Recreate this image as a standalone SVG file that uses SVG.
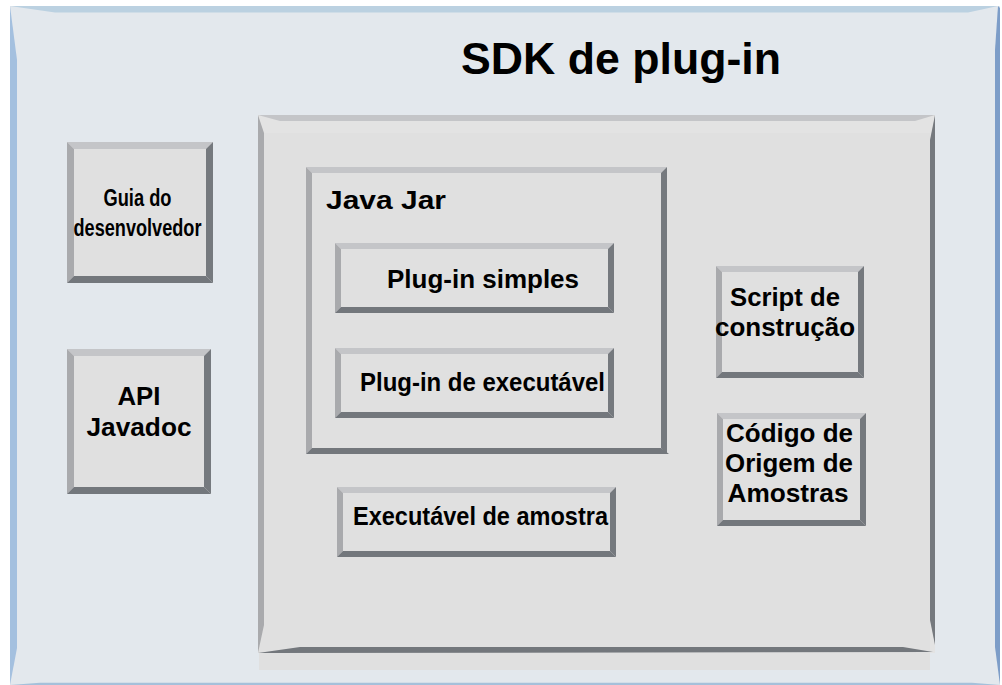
<svg xmlns="http://www.w3.org/2000/svg" width="1002" height="685" viewBox="0 0 1002 685">
<style>
.bg{fill:#ffffff}
.fface{fill:#E3E8ED}
.ft{fill:#BBD1E1}
.fl{fill:#A4C0DF}
.fr{fill:#7D9DC8}
.fb{fill:#A5C0DA}
.face{fill:#E0E0E0}
.face2{fill:#E3E3E3}
.bt{fill:#C4C5C8}
.bl{fill:#A9AAAD}
.br{fill:#75797E}
.bb{fill:#73777C}
text{font-family:"Liberation Sans",Arial,Helvetica,sans-serif;font-weight:bold;fill:#000000}
.t26{font-size:26.5px}
.t21{font-size:23px}
.title{font-size:45px}
</style>
<rect class="bg" x="0" y="0" width="1002" height="685"/>
<g id="frame">
<rect class="fface" x="10" y="6" width="990" height="679"/>
<polygon class="ft" points="10,6 998,6 968,12.5 55,12.5"/>
<polygon class="fl" points="10,6 17,60 17,648 10,685"/>
<polygon class="fr" points="998,6 1000,8 1000,685 995,647 995,50"/>
<polygon class="fb" points="10,685 40,682.7 972,682.7 1000,685"/>
<text class="title" x="461" y="74" textLength="320" lengthAdjust="spacingAndGlyphs">SDK de plug-in</text>
</g>
<g id="guia">
<rect class="face" x="67" y="142" width="146" height="141"/>
<polygon class="bt" points="67,142 213,142 206,149 74,149"/>
<polygon class="bl" points="67,142 74,149 74,276 67,283"/>
<polygon class="br" points="213,142 213,283 206,276 206,149"/>
<polygon class="bb" points="67,283 213,283 206,276 74,276"/>
<text class="t21" x="137.5" y="206" text-anchor="middle" textLength="68" lengthAdjust="spacingAndGlyphs">Guia do</text>
<text class="t21" x="137.5" y="236" text-anchor="middle" textLength="128" lengthAdjust="spacingAndGlyphs">desenvolvedor</text>
</g>
<g id="api">
<rect class="face" x="67" y="349" width="144" height="145"/>
<polygon class="bt" points="67,349 211,349 204,356 74,356"/>
<polygon class="bl" points="67,349 74,356 74,487 67,494"/>
<polygon class="br" points="211,349 211,494 204,487 204,356"/>
<polygon class="bb" points="67,494 211,494 204,487 74,487"/>
<text class="t26" x="139" y="405" text-anchor="middle" textLength="43" lengthAdjust="spacingAndGlyphs">API</text>
<text class="t26" x="139" y="436" text-anchor="middle" textLength="105" lengthAdjust="spacingAndGlyphs">Javadoc</text>
</g>
<g id="sdk-box">
<rect class="face2" x="258" y="115" width="677" height="538"/>
<rect class="face" x="259" y="133" width="671" height="537"/>
<polygon class="bt" points="258,115 935,115 915,121 280,121"/>
<polygon class="bl" points="258,115 264,133 264,625 258,653"/>
<polygon class="br" points="935,115 935,645 930,620 930,140"/>
<polygon class="bb" points="258,653 933,652 903,647 300,647"/>
</g>
<g id="java-jar">
<polygon class="bt" points="306,167 667,167 661,173 312,173"/>
<polygon class="bl" points="306,167 312,173 312,448 306,454"/>
<polygon class="br" points="667,167 667,454 661,448 661,173"/>
<polygon class="bb" points="306,454 669,454 661,448 312,448"/>
<text class="t26" x="326" y="208.5" textLength="120" lengthAdjust="spacingAndGlyphs">Java Jar</text>
</g>
<g id="plugin-simples">
<rect class="face" x="335" y="243" width="279" height="70"/>
<polygon class="bt" points="335,243 614,243 608,249 341,249"/>
<polygon class="bl" points="335,243 341,249 341,307 335,313"/>
<polygon class="br" points="614,243 614,313 608,307 608,249"/>
<polygon class="bb" points="335,313 614,313 608,307 341,307"/>
<text class="t26" x="387" y="288" textLength="192" lengthAdjust="spacingAndGlyphs">Plug-in simples</text>
</g>
<g id="plugin-executavel">
<rect class="face" x="335" y="348" width="279" height="70"/>
<polygon class="bt" points="335,348 614,348 608,354 341,354"/>
<polygon class="bl" points="335,348 341,354 341,412 335,418"/>
<polygon class="br" points="614,348 614,418 608,412 608,354"/>
<polygon class="bb" points="335,418 614,418 608,412 341,412"/>
<text class="t26" x="360" y="391" textLength="245" lengthAdjust="spacingAndGlyphs">Plug-in de executável</text>
</g>
<g id="executavel-amostra">
<rect class="face" x="337" y="487" width="279" height="70"/>
<polygon class="bt" points="337,487 616,487 610,493 343,493"/>
<polygon class="bl" points="337,487 343,493 343,551 337,557"/>
<polygon class="br" points="616,487 616,557 610,551 610,493"/>
<polygon class="bb" points="337,557 616,557 610,551 343,551"/>
<text class="t26" x="353" y="525" textLength="255" lengthAdjust="spacingAndGlyphs">Executável de amostra</text>
</g>
<g id="script-construcao">
<rect class="face" x="716" y="266" width="148" height="112"/>
<polygon class="bt" points="716,266 864,266 858,272 722,272"/>
<polygon class="bl" points="716,266 722,272 722,372 716,378"/>
<polygon class="br" points="864,266 864,378 858,372 858,272"/>
<polygon class="bb" points="716,378 864,378 858,372 722,372"/>
<text class="t26" x="785" y="306" text-anchor="middle" textLength="110" lengthAdjust="spacingAndGlyphs">Script de</text>
<text class="t26" x="785" y="336" text-anchor="middle" textLength="140" lengthAdjust="spacingAndGlyphs">construção</text>
</g>
<g id="codigo-origem">
<rect class="face" x="717" y="413" width="149" height="113"/>
<polygon class="bt" points="717,413 866,413 860,419 723,419"/>
<polygon class="bl" points="717,413 723,419 723,520 717,526"/>
<polygon class="br" points="866,413 866,526 860,520 860,419"/>
<polygon class="bb" points="717,526 866,526 860,520 723,520"/>
<text class="t26" x="789.5" y="442" text-anchor="middle" textLength="127" lengthAdjust="spacingAndGlyphs">Código de</text>
<text class="t26" x="789" y="472" text-anchor="middle" textLength="128" lengthAdjust="spacingAndGlyphs">Origem de</text>
<text class="t26" x="788" y="502" text-anchor="middle" textLength="121" lengthAdjust="spacingAndGlyphs">Amostras</text>
</g>
<g id="connectors"></g>
</svg>
